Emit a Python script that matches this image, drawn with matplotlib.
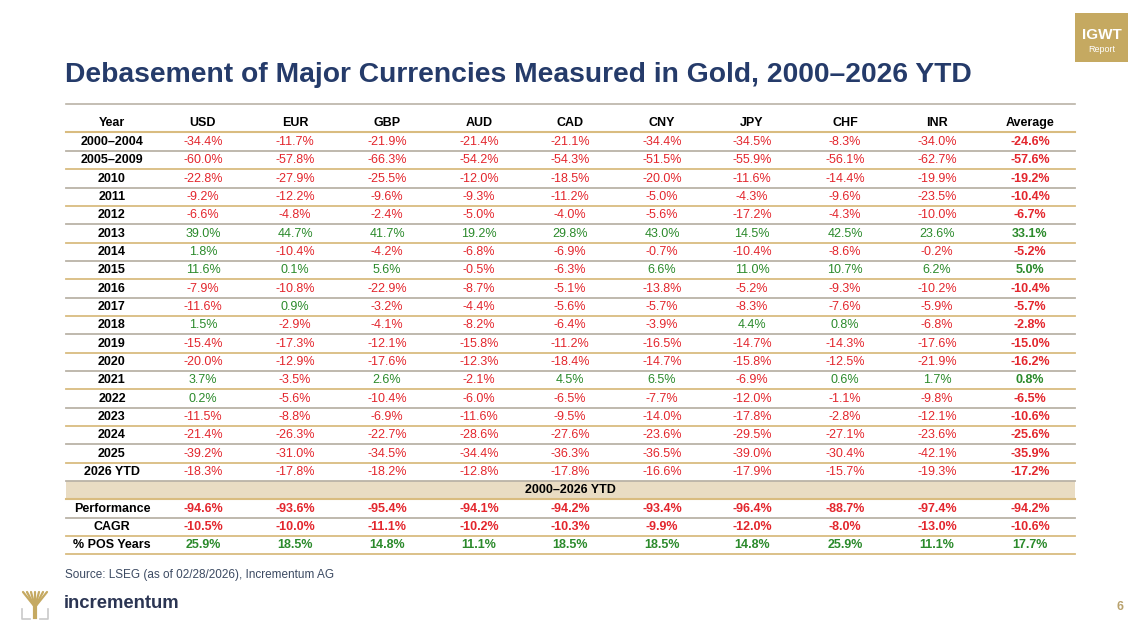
import matplotlib
matplotlib.use("Agg")
import matplotlib.pyplot as plt
from matplotlib.patches import Rectangle

plt.rcParams['font.family'] = ['Liberation Sans', 'DejaVu Sans']

# --- data ---
years = ["2000–2004", "2005–2009", "2010", "2011", "2012", "2013", "2014", "2015",
         "2016", "2017", "2018", "2019", "2020", "2021", "2022", "2023", "2024",
         "2025", "2026 YTD"]
currencies = ["USD", "EUR", "GBP", "AUD", "CAD", "CNY", "JPY", "CHF", "INR", "Average"]

usd = [-34.4, -60.0, -22.8, -9.2, -6.6, 39.0, 1.8, 11.6, -7.9, -11.6, 1.5, -15.4, -20.0, 3.7, 0.2, -11.5, -21.4, -39.2, -18.3]
eur = [-11.7, -57.8, -27.9, -12.2, -4.8, 44.7, -10.4, 0.1, -10.8, 0.9, -2.9, -17.3, -12.9, -3.5, -5.6, -8.8, -26.3, -31.0, -17.8]
gbp = [-21.9, -66.3, -25.5, -9.6, -2.4, 41.7, -4.2, 5.6, -22.9, -3.2, -4.1, -12.1, -17.6, 2.6, -10.4, -6.9, -22.7, -34.5, -18.2]
aud = [-21.4, -54.2, -12.0, -9.3, -5.0, 19.2, -6.8, -0.5, -8.7, -4.4, -8.2, -15.8, -12.3, -2.1, -6.0, -11.6, -28.6, -34.4, -12.8]
cad = [-21.1, -54.3, -18.5, -11.2, -4.0, 29.8, -6.9, -6.3, -5.1, -5.6, -6.4, -11.2, -18.4, 4.5, -6.5, -9.5, -27.6, -36.3, -17.8]
cny = [-34.4, -51.5, -20.0, -5.0, -5.6, 43.0, -0.7, 6.6, -13.8, -5.7, -3.9, -16.5, -14.7, 6.5, -7.7, -14.0, -23.6, -36.5, -16.6]
jpy = [-34.5, -55.9, -11.6, -4.3, -17.2, 14.5, -10.4, 11.0, -5.2, -8.3, 4.4, -14.7, -15.8, -6.9, -12.0, -17.8, -29.5, -39.0, -17.9]
chf = [-8.3, -56.1, -14.4, -9.6, -4.3, 42.5, -8.6, 10.7, -9.3, -7.6, 0.8, -14.3, -12.5, 0.6, -1.1, -2.8, -27.1, -30.4, -15.7]
inr = [-34.0, -62.7, -19.9, -23.5, -10.0, 23.6, -0.2, 6.2, -10.2, -5.9, -6.8, -17.6, -21.9, 1.7, -9.8, -12.1, -23.6, -42.1, -19.3]
average = [-24.6, -57.6, -19.2, -10.4, -6.7, 33.1, -5.2, 5.0, -10.4, -5.7, -2.8, -15.0, -16.2, 0.8, -6.5, -10.6, -25.6, -35.9, -17.2]

summary_labels = ["Performance", "CAGR", "% POS Years"]
performance = [-94.6, -93.6, -95.4, -94.1, -94.2, -93.4, -96.4, -88.7, -97.4, -94.2]
cagr = [-10.5, -10.0, -11.1, -10.2, -10.3, -9.9, -12.0, -8.0, -13.0, -10.6]
pos_years = [25.9, 18.5, 14.8, 11.1, 18.5, 18.5, 14.8, 25.9, 11.1, 17.7]

yearly = [usd, eur, gbp, aud, cad, cny, jpy, chf, inr, average]

# --- style ---
RED = "#e3262d"
GREEN = "#2b8a2b"
NAVY = "#253b6a"
GOLD_LINE = "#d9bc80"
GRAY_LINE = "#bab3a7"
BAND = "#e9dcc3"
GOLD = "#c5a961"

fig = plt.figure(figsize=(11.37, 6.31), dpi=100)
ax = fig.add_axes([0, 0, 1, 1])
ax.set_xlim(0, 1137)
ax.set_ylim(631, 0)
ax.axis("off")

# title
ax.text(65, 75, "Debasement of Major Currencies Measured in Gold, 2000–2026 YTD",
        fontsize=20.3, fontweight="bold", color=NAVY, ha="left", va="center")
ax.plot([66, 1075], [104, 104], color=GRAY_LINE, lw=1.2)

# IGWT badge
ax.add_patch(Rectangle((1075, 13), 53, 49, color=GOLD, lw=0))
ax.text(1101.5, 35, "IGWT", color="white", fontsize=11, fontweight="bold", ha="center", va="center")
ax.text(1101.5, 49, "Report", color="white", fontsize=6.5, ha="center", va="center")

# table geometry
left, right = 66, 1075
col_x = [112, 203, 295, 387, 479, 570, 662, 752, 845, 937, 1030]
header_y = 123
row0_y = 142
row_h = 18.33


def pct(v):
    return f"{v:.1f}%"


def colour(v):
    return GREEN if v >= 0 else RED


# header
ax.text(col_x[0], header_y, "Year", fontsize=9, fontweight="bold", ha="center", va="center")
for i, c in enumerate(currencies):
    ax.text(col_x[i + 1], header_y, c, fontsize=9, fontweight="bold", ha="center", va="center")
ax.plot([left, right], [header_y + 9, header_y + 9], color=GOLD_LINE, lw=1.5)

# yearly rows
for r, yr in enumerate(years):
    y = row0_y + r * row_h
    ax.text(col_x[0], y, yr, fontsize=9, fontweight="bold", ha="center", va="center")
    for i, series in enumerate(yearly):
        v = series[r]
        bold = "bold" if i == len(yearly) - 1 else "normal"
        ax.text(col_x[i + 1], y, pct(v), fontsize=9, fontweight=bold,
                color=colour(v), ha="center", va="center")
    lc = GRAY_LINE if r % 2 == 0 else GOLD_LINE
    ax.plot([left, right], [y + row_h / 2, y + row_h / 2], color=lc, lw=1.3)

# band
band_top = row0_y + (len(years) - 0.5) * row_h
ax.add_patch(Rectangle((left, band_top), right - left, row_h, color=BAND, lw=0))
ax.plot([left, right], [band_top + row_h, band_top + row_h], color=GOLD_LINE, lw=1.5)
ax.text((left + right) / 2, band_top + row_h / 2, "2000–2026 YTD", fontsize=9,
        fontweight="bold", ha="center", va="center")

# summary rows
for r, (lab, series) in enumerate(zip(summary_labels, [performance, cagr, pos_years])):
    y = band_top + row_h * 1.5 + r * row_h
    ax.text(col_x[0], y, lab, fontsize=9, fontweight="bold", ha="center", va="center")
    for i, v in enumerate(series):
        ax.text(col_x[i + 1], y, pct(v), fontsize=9, fontweight="bold",
                color=colour(v), ha="center", va="center")
    lc = GOLD_LINE if r % 2 == 1 else GRAY_LINE
    if r == len(summary_labels) - 1:
        lc = GOLD_LINE
    ax.plot([left, right], [y + row_h / 2, y + row_h / 2], color=lc, lw=1.3)

# source
ax.text(65, 575, "Source: LSEG (as of 02/28/2026), Incrementum AG", fontsize=8.5,
        color="#3c4a62", ha="left", va="center")

# logo: simple tree mark
for dx in [-12, -8, -4, 0, 4, 8, 12]:
    ax.plot([35, 35 + dx], [607, 592], color=GOLD, lw=1.6, solid_capstyle="round")
ax.plot([35, 35], [607, 617], color=GOLD, lw=3)
ax.plot([22, 22, 30], [609, 619, 619], color="#c9c9c9", lw=1.2)
ax.plot([48, 48, 40], [609, 619, 619], color="#c9c9c9", lw=1.2)
ax.text(64, 604, "incrementum", fontsize=13.3, fontweight="bold", color="#2b3553",
        ha="left", va="center")

ax.text(1120, 607, "6", fontsize=9, fontweight="bold", color="#b9a26e", ha="center", va="center")

fig.savefig("out.png", dpi=100)
